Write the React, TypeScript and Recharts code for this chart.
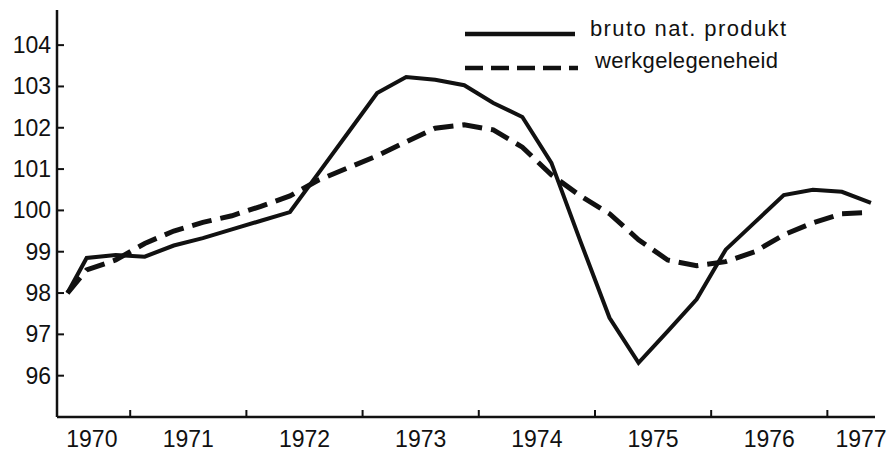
import { LineChart, Line, XAxis, YAxis } from "recharts";

// quarterly observations, 1970 - 1977 (index 1970 = 100-ish)
const quarterTimes = [
    1970.46, 1970.625, 1970.875, 1971.125, 1971.375, 1971.625, 1971.875, 1972.125,
    1972.375, 1972.625, 1972.875, 1973.125, 1973.375, 1973.625, 1973.875, 1974.125,
    1974.375, 1974.625, 1974.875, 1975.125, 1975.375, 1975.625, 1975.875, 1976.125,
    1976.375, 1976.625, 1976.875, 1977.125, 1977.375,
];

const brutoNatProdukt = [
    98.0, 98.85, 98.92, 98.88, 99.15, 99.33, 99.54, 99.75,
    99.96, 100.92, 101.88, 102.84, 103.23, 103.16, 103.03, 102.6,
    102.26, 101.15, 99.25, 97.4, 96.31, 97.07, 97.85, 99.05,
    99.71, 100.37, 100.5, 100.45, 100.18,
];

const werkgelegenheid = [
    98.0, 98.56, 98.8, 99.2, 99.5, 99.71, 99.87, 100.1,
    100.35, 100.74, 101.03, 101.32, 101.66, 101.99, 102.07, 101.95,
    101.53, 100.86, 100.35, 99.92, 99.29, 98.8, 98.66, 98.76,
    99.0, 99.41, 99.7, 99.92, 99.95,
];

const yTicks = [96, 97, 98, 99, 100, 101, 102, 103, 104];
const yearTicks = [1971, 1972, 1973, 1974, 1975, 1976, 1977];
const yearLabels = ["1970", "1971", "1972", "1973", "1974", "1975", "1976", "1977"];

const X_DOMAIN: [number, number] = [1970.37, 1977.41];
const Y_DOMAIN: [number, number] = [95, 104.85];

const FONT = "'Liberation Sans', Arial, Helvetica, sans-serif";
const INK = "#111";

// year labels sit mid-year, pulled inwards at both ends of the axis
const labelTicks = yearLabels.map((l) =>
    Math.min(Math.max(Number(l) + 0.5, X_DOMAIN[0] + 0.3), X_DOMAIN[1] - 0.12)
);
const xTicks = [...yearTicks, ...labelTicks].sort((a, b) => a - b);

const data = quarterTimes.map((t, i) => ({
    t,
    bnp: brutoNatProdukt[i],
    werk: werkgelegenheid[i],
}));

function XTick({ x, y, payload }: any) {
    const v = payload.value;
    if (yearTicks.includes(v)) {
        return <line x1={x} x2={x} y1={y} y2={y - 7} stroke={INK} strokeWidth={2} />;
    }
    return (
        <text x={x} y={y + 30} textAnchor="middle" fontSize={23} fontFamily={FONT} fill={INK}>
            {Math.floor(v)}
        </text>
    );
}

function YTick({ x, y, payload }: any) {
    return (
        <g>
            <line x1={x} x2={x + 7} y1={y} y2={y} stroke={INK} strokeWidth={2} />
            <text x={x - 6} y={y + 8} textAnchor="end" fontSize={23} fontFamily={FONT} fill={INK}>
                {payload.value}
            </text>
        </g>
    );
}

export default function App() {
    return (
        <div style={{ position: "relative", width: 889, height: 453, background: "#fff" }}>
            <style>{"body{margin:0;background:#fff}"}</style>
            <LineChart
                width={889}
                height={453}
                data={data}
                margin={{ top: 10, right: 14, bottom: 0, left: 0 }}
            >
                <XAxis
                    type="number"
                    dataKey="t"
                    domain={X_DOMAIN}
                    ticks={xTicks}
                    interval={0}
                    height={36}
                    tickSize={0}
                    tickMargin={0}
                    tickLine={false}
                    axisLine={{ stroke: INK, strokeWidth: 2.5 }}
                    tick={<XTick />}
                    allowDataOverflow
                />
                <YAxis
                    type="number"
                    domain={Y_DOMAIN}
                    ticks={yTicks}
                    interval={0}
                    width={57}
                    tickSize={0}
                    tickMargin={0}
                    tickLine={false}
                    axisLine={{ stroke: INK, strokeWidth: 2.5 }}
                    tick={<YTick />}
                    allowDataOverflow
                />
                <Line
                    type="linear"
                    dataKey="werk"
                    stroke={INK}
                    strokeWidth={5}
                    strokeDasharray="20 9"
                    dot={false}
                    activeDot={false}
                    isAnimationActive={false}
                />
                <Line
                    type="linear"
                    dataKey="bnp"
                    stroke={INK}
                    strokeWidth={4}
                    dot={false}
                    activeDot={false}
                    isAnimationActive={false}
                />
            </LineChart>
            <svg
                width={889}
                height={453}
                style={{ position: "absolute", left: 0, top: 0, pointerEvents: "none" }}
            >
                <line x1={465} x2={575} y1={34} y2={34} stroke={INK} strokeWidth={4.5} />
                <text x={590} y={36} fontSize={22} fontFamily={FONT} fill={INK} textLength={196} lengthAdjust="spacing">
                    bruto nat. produkt
                </text>
                <line x1={465} x2={578} y1={68} y2={68} stroke={INK} strokeWidth={4.5} strokeDasharray="18 8" />
                <text x={595} y={68} fontSize={22} fontFamily={FONT} fill={INK} textLength={183} lengthAdjust="spacing">
                    werkgelegeneheid
                </text>
            </svg>
        </div>
    );
}
